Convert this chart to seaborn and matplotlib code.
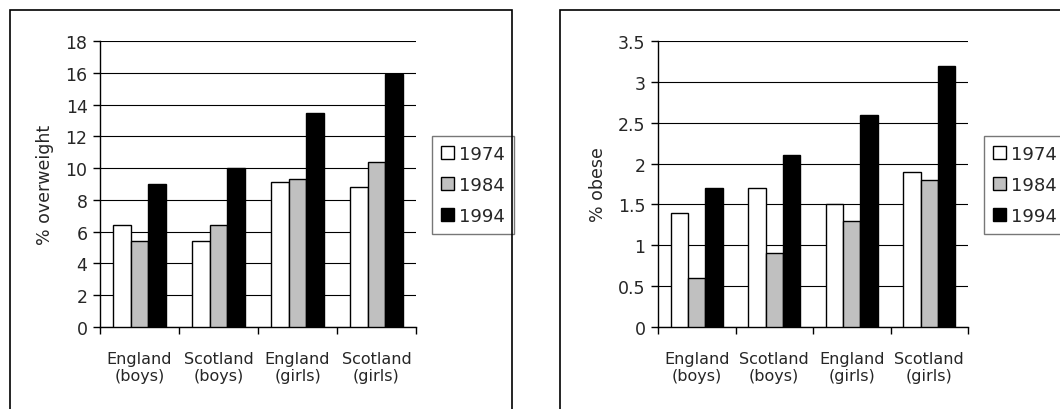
import matplotlib
matplotlib.use("Agg")
import matplotlib.pyplot as plt
from matplotlib.patches import Rectangle
import seaborn as sns
import pandas as pd

categories = ["England\n(boys)", "Scotland\n(boys)", "England\n(girls)", "Scotland\n(girls)"]
years = ["1974", "1984", "1994"]
overweight_1974 = [6.4, 5.4, 9.1, 8.8]
overweight_1984 = [5.4, 6.4, 9.3, 10.4]
overweight_1994 = [9.0, 10.0, 13.5, 15.9]
obese_1974 = [1.4, 1.7, 1.5, 1.9]
obese_1984 = [0.6, 0.9, 1.3, 1.8]
obese_1994 = [1.7, 2.1, 2.6, 3.2]
overweight_ticks = [0, 2, 4, 6, 8, 10, 12, 14, 16, 18]
obese_ticks = [0, 0.5, 1, 1.5, 2, 2.5, 3, 3.5]
obese_tick_labels = ["0", "0.5", "1", "1.5", "2", "2.5", "3", "3.5"]

sns.set_theme(style="white")
plt.rcParams["font.family"] = ["DejaVu Sans"]
palette = ["#FFFFFF", "#C0C0C0", "#000000"]


def make_df(series):
    rows = []
    for y, vals in zip(years, series):
        for c, v in zip(categories, vals):
            rows.append({"group": c, "year": y, "value": v})
    return pd.DataFrame(rows)


fig = plt.figure(figsize=(10.6, 4.1), dpi=100)

# panel borders
fig.patches.append(Rectangle((10 / 1060, -0.1), (512 - 10) / 1060, 1.1 - 11 / 410,
                             transform=fig.transFigure, fill=False, edgecolor="black",
                             linewidth=1.2, clip_on=False))
fig.patches.append(Rectangle((560 / 1060, -0.1), 0.6, 1.1 - 11 / 410,
                             transform=fig.transFigure, fill=False, edgecolor="black",
                             linewidth=1.2, clip_on=False))

ax1 = fig.add_axes([100 / 1060, 82 / 410, 316 / 1060, 286 / 410])
ax2 = fig.add_axes([658 / 1060, 82 / 410, 310 / 1060, 286 / 410])

specs = [
    (ax1, [overweight_1974, overweight_1984, overweight_1994], "% overweight",
     overweight_ticks, [str(t) for t in overweight_ticks], 18, 432),
    (ax2, [obese_1974, obese_1984, obese_1994], "% obese",
     obese_ticks, obese_tick_labels, 3.5, 984),
]

for ax, series, ylabel, ticks, tlabels, ymax, legx in specs:
    df = make_df(series)
    sns.barplot(data=df, x="group", y="value", hue="year", palette=palette,
                width=0.67, edgecolor="black", linewidth=1.0, ax=ax,
                saturation=1, zorder=3)
    ax.set_ylim(0, ymax)
    ax.set_xlim(-0.5, 3.5)
    ax.set_yticks(ticks)
    ax.set_yticklabels(tlabels, fontsize=12.5)
    ax.set_xticks(range(4))
    ax.set_xticklabels(categories, fontsize=11.5, linespacing=1.2)
    ax.set_xticks([-0.5, 0.5, 1.5, 2.5, 3.5], minor=True)
    ax.tick_params(axis="x", which="major", length=0, pad=17)
    ax.tick_params(axis="x", which="minor", length=5, width=1, color="black", direction="out", bottom=True)
    ax.tick_params(axis="y", length=5, width=1, color="black", direction="out", left=True, pad=4)
    ax.grid(axis="y", color="black", linewidth=0.8, zorder=0)
    ax.set_axisbelow(True)
    for s in ["top", "right"]:
        ax.spines[s].set_visible(False)
    for s in ["left", "bottom"]:
        ax.spines[s].set_color("black")
        ax.spines[s].set_linewidth(1.0)
    ax.set_xlabel("")
    ax.set_ylabel(ylabel, fontsize=12.5, labelpad=8)
    handles, labels = ax.get_legend_handles_labels()
    leg = ax.legend(handles, labels, loc="upper left",
                    bbox_to_anchor=(legx / 1060, 1 - 137 / 410),
                    bbox_transform=fig.transFigure, frameon=True, fancybox=False,
                    fontsize=13, handlelength=0.7, handleheight=0.7,
                    handletextpad=0.3, labelspacing=0.72, borderpad=0.5,
                    borderaxespad=0)
    leg.get_frame().set_edgecolor("#555555")
    leg.get_frame().set_linewidth(1.0)

fig.savefig("out.png", dpi=100)
